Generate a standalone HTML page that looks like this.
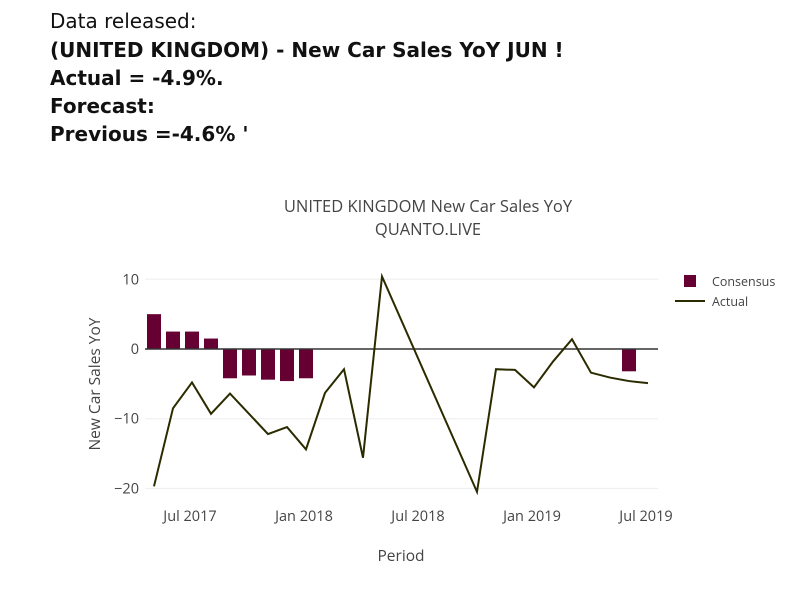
<!DOCTYPE html>
<html><head><meta charset="utf-8"><style>
body{margin:0;width:800px;height:594px;background:#fff;overflow:hidden;position:relative}
.hdr{position:absolute;left:50px;font-family:"DejaVu Sans","Liberation Sans",sans-serif;font-size:20px;color:#111;white-space:nowrap}
.b{font-weight:bold}
svg{position:absolute;left:0;top:0}
</style></head><body>
<div class="hdr" style="top:9px">Data released:</div>
<div class="hdr b" style="top:38px">(UNITED KINGDOM) - New Car Sales YoY JUN !</div>
<div class="hdr b" style="top:66px">Actual = -4.9%.</div>
<div class="hdr b" style="top:94px">Forecast:</div>
<div class="hdr b" style="top:122px">Previous =-4.6% '</div>
<svg id="chart" width="800" height="594"></svg>
<script>
// months indexed relative to Jul 2017 (0)
const actualMonths=[-2,-1,0,1,2,3,4,5,6,7,8,9,10,15,16,17,18,19,20,21,22,23,24];
const actualValues=[-19.7,-8.5,-4.8,-9.3,-6.4,-9.3,-12.2,-11.2,-14.4,-6.3,-2.9,-15.6,10.4,-20.5,-2.9,-3.0,-5.5,-1.8,1.4,-3.4,-4.1,-4.6,-4.9];
const consensusMonths=[-2,-1,0,1,2,3,4,5,6,23];
const consensusValues=[5.0,2.5,2.5,1.5,-4.2,-3.8,-4.4,-4.6,-4.2,-3.2];
const yTicks=[10,0,-10,-20];
const xTickMonths=[0,6,12,18,24];
const xTickLabels=["Jul 2017","Jan 2018","Jul 2018","Jan 2019","Jul 2019"];
const NS="http://www.w3.org/2000/svg";
const svg=document.getElementById('chart');
const X0=145,X1=658;
function xs(m){return 190+m*19+2;}
function ys(v){return 349-v*6.97;}
function el(t,a,txt){const e=document.createElementNS(NS,t);for(const k in a)e.setAttribute(k,a[k]);if(txt!=null)e.textContent=txt;svg.appendChild(e);return e;}
const F='"Open Sans","DejaVu Sans","Liberation Sans",sans-serif';
yTicks.forEach(v=>{
 if(v!==0){const g=el('line',{x1:X0,x2:X1,y1:ys(v),y2:ys(v),stroke:'#eee','stroke-width':1});
 
 }
 const t=el('text',{x:X0-6,y:ys(v)+5,'text-anchor':'end','font-family':F,'font-size':14.5,fill:'#444'},v===0?'0':(v<0?'−'+(-v):''+v));
 
 
});
xTickMonths.forEach((m,i)=>{
 const t=el('text',{x:190+m*19,y:521,'text-anchor':'middle','font-family':F,'font-size':14.5,fill:'#444'},xTickLabels[i]);
 
 
});
consensusMonths.forEach((m,i)=>{
 const v=consensusValues[i];const y0=ys(0),y1=ys(v);
 const r=el('rect',{x:xs(m)-7,y:Math.min(y0,y1),width:14,height:Math.abs(y1-y0),fill:'#660033'});
 
 
});
const z=el('line',{x1:X0,x2:X1,y1:ys(0),y2:ys(0),stroke:'#333','stroke-width':1.5});


const pts=actualMonths.map((m,i)=>xs(m)+','+ys(actualValues[i])).join(' ');
const pl=el('polyline',{points:pts,fill:'none',stroke:'#2b2b00','stroke-width':2});


const t1=el('text',{x:428,y:212,'text-anchor':'middle','font-family':F,'font-size':16.5,fill:'#444'},'UNITED KINGDOM New Car Sales YoY');


const t2=el('text',{x:428,y:235,'text-anchor':'middle','font-family':F,'font-size':16.5,fill:'#444'},'QUANTO.LIVE');


const xt=el('text',{x:401,y:561,'text-anchor':'middle','font-family':F,'font-size':15.5,fill:'#444'},'Period');


const yt=el('text',{x:100,y:384,'text-anchor':'middle','font-family':F,'font-size':15.5,fill:'#444',transform:'rotate(-90 100 384)'},'New Car Sales YoY');


const lr=el('rect',{x:684,y:275,width:12,height:12,fill:'#660033'});


const lt1=el('text',{x:712,y:286,'font-family':F,'font-size':12.5,fill:'#444'},'Consensus');


const ll=el('line',{x1:675,x2:705,y1:301,y2:301,stroke:'#2b2b00','stroke-width':2});


const lt2=el('text',{x:712,y:306,'font-family':F,'font-size':12.5,fill:'#444'},'Actual');


</script>
</body></html>
